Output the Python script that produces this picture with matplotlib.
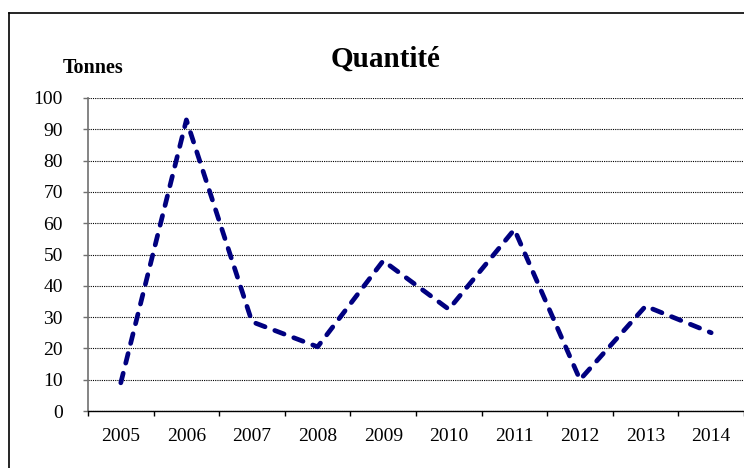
import matplotlib.pyplot as plt
from matplotlib.lines import Line2D

years = ['2005', '2006', '2007', '2008', '2009', '2010', '2011', '2012', '2013', '2014']
tonnes = [9, 93, 28.5, 20.5, 48, 32.5, 58, 10, 33.5, 25]
yticks = [0, 10, 20, 30, 40, 50, 60, 70, 80, 90, 100]

plt.rcParams['font.family'] = ['Liberation Serif', 'DejaVu Serif']

W, H = 744, 468
fig = plt.figure(figsize=(W / 100, H / 100), dpi=100)
ax = fig.add_axes([88 / W, (H - 411) / H, (W - 88) / W, (411 - 98) / H])

x = list(range(len(years)))
ax.plot(x, tonnes, color='#000080', lw=3.4, linestyle=(0, (2.1, 2.2)),
        dash_capstyle='round', solid_capstyle='round', zorder=3)

ax.set_xlim(-0.5, len(years) - 0.5)
ax.set_ylim(0, 100)
ax.set_yticks(yticks)
ax.set_yticklabels([str(v) for v in yticks], fontsize=14)
ax.set_xticks(x)
ax.set_xticklabels(years, fontsize=14)
ax.set_xticks([i - 0.5 for i in range(len(years) + 1)], minor=True)
ax.tick_params(axis='x', which='major', length=0, pad=12.5)
ax.tick_params(axis='x', which='minor', length=3.6, width=1, color='black')
ax.tick_params(axis='y', length=3.6, width=1, color='#707070', pad=14.5)

ax.grid(axis='y', color='black', lw=0.8, linestyle=(0, (1, 1)))
ax.set_axisbelow(True)
for s in ['top', 'right']:
    ax.spines[s].set_visible(False)
ax.spines['left'].set_color('#707070')
ax.spines['left'].set_linewidth(1.2)
ax.spines['bottom'].set_color('black')
ax.spines['bottom'].set_linewidth(1)

fig.text(386 / W, 1 - 59 / H, 'Quantité', ha='center', va='center',
         fontsize=21, fontweight='bold')
fig.text(93.5 / W, 1 - 68 / H, 'Tonnes', ha='center', va='center',
         fontsize=14.5, fontweight='bold')

# chart border (only top and left visible in the crop)
fig.add_artist(Line2D([8.5 / W, 8.5 / W], [0, 1 - 13 / H], color='black', lw=1.2,
                      transform=fig.transFigure))
fig.add_artist(Line2D([8.5 / W, 1], [1 - 13 / H, 1 - 13 / H], color='black', lw=1.2,
                      transform=fig.transFigure))

fig.savefig('out.png', dpi=100)
